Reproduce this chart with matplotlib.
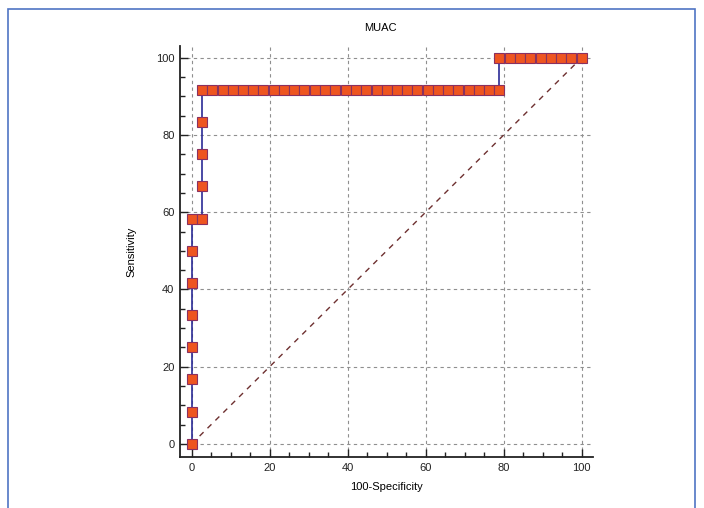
import matplotlib
matplotlib.use('Agg')
import matplotlib.pyplot as plt
from matplotlib.patches import Rectangle
from matplotlib.ticker import MultipleLocator

plt.rcParams['font.family'] = ['Liberation Sans', 'DejaVu Sans']

# ROC data
# sensitivity levels at 100-Specificity = 0 and at the first step
sens_col0 = [0.0, 8.3, 16.7, 25.0, 33.3, 41.7, 50.0, 58.3]
sens_col1 = [58.3, 66.7, 75.0, 83.3, 91.7]
# 100-Specificity steps (one per negative case)
fpr_steps = [2.6, 5.3, 7.9, 10.5, 13.2, 15.8, 18.4, 21.1, 23.7, 26.3,
             28.9, 31.6, 34.2, 36.8, 39.5, 42.1, 44.7, 47.4, 50.0, 52.6,
             55.3, 57.9, 60.5, 63.2, 65.8, 68.4, 71.1, 73.7, 76.3, 78.9,
             81.6, 84.2, 86.8, 89.5, 92.1, 94.7, 97.4, 100.0]
sens_mid = 91.7
sens_top = 100.0
jump_index = 29  # step where sensitivity reaches 100

roc_x = ([0.0] * len(sens_col0) + [fpr_steps[0]] * len(sens_col1)
         + fpr_steps[1:jump_index + 1] + fpr_steps[jump_index:])
roc_y = (sens_col0 + sens_col1 + [sens_mid] * jump_index
         + [sens_top] * (len(fpr_steps) - jump_index))

fig = plt.figure(figsize=(7.04, 5.08), dpi=100)
ax = fig.add_axes([0.2557, 0.1004, 0.587, 0.8085])

# frame around the figure
fig.patches.append(Rectangle((8 / 704, -0.05), 687 / 704, 1.05 - 9 / 508,
                             transform=fig.transFigure, fill=False,
                             edgecolor='#4f74c4', linewidth=1.2))

# reference diagonal
ax.plot([0, 100], [0, 100], color='#6e3030', linestyle=(0, (4, 4)),
        linewidth=1.0, zorder=2)

ax.plot(roc_x, roc_y, color='#2b2b96', linewidth=1.2, marker='s',
        markersize=7, markerfacecolor='#ee5520',
        markeredgecolor='#8a3060', markeredgewidth=0.8, zorder=3,
        clip_on=False)

ax.set_xlim(-3, 103)
ax.set_ylim(-3.4, 103)
ax.xaxis.set_major_locator(MultipleLocator(20))
ax.xaxis.set_minor_locator(MultipleLocator(5))
ax.yaxis.set_major_locator(MultipleLocator(20))
ax.yaxis.set_minor_locator(MultipleLocator(5))
ax.tick_params(which='both', direction='in', colors='#222222',
               labelsize=8, width=1.0, top=False, right=False)
ax.tick_params(which='major', length=6, pad=4)
ax.tick_params(which='minor', length=3.5)
ax.grid(True, which='major', color='#8f8f8f', linestyle=(0, (3, 3)),
        linewidth=0.8)

for side in ['top', 'right']:
    ax.spines[side].set_visible(False)
for side in ['left', 'bottom']:
    ax.spines[side].set_linewidth(1.3)
    ax.spines[side].set_color('#222222')

ax.set_xlabel('100-Specificity', fontsize=8, labelpad=7)
ax.set_ylabel('Sensitivity', fontsize=8, labelpad=14)
fig.text(380 / 704, 1 - 28 / 508, 'MUAC', fontsize=8, ha='center',
         va='center')

fig.savefig('out.png', dpi=100)
